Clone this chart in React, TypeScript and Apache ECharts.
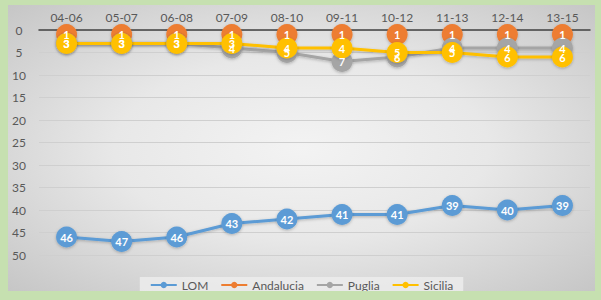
import React, { useEffect, useRef } from "react";
import * as echarts from "echarts";

const categories = ["04-06", "05-07", "06-08", "07-09", "08-10", "09-11", "10-12", "11-13", "12-14", "13-15"];
const lom = [46, 47, 46, 43, 42, 41, 41, 39, 40, 39];
const andalucia = [1, 1, 1, 1, 1, 1, 1, 1, 1, 1];
const puglia = [3, 3, 3, 4, 5, 7, 6, 4, 4, 4];
const sicilia = [3, 3, 3, 3, 4, 4, 5, 5, 6, 6];
const yTicks = { min: 0, max: 50, interval: 5 };

const FONT = "Lato, 'Noto Sans', sans-serif";

function mkSeries(name: string, data: number[], color: string) {
  return {
    name,
    type: "line",
    data,
    symbol: "circle",
    symbolSize: 21,
    lineStyle: { width: 3, color, shadowColor: "rgba(0,0,0,0.25)", shadowBlur: 3, shadowOffsetY: 1 },
    itemStyle: { color, shadowColor: "rgba(0,0,0,0.25)", shadowBlur: 3, shadowOffsetY: 1 },
    label: {
      show: true,
      position: "inside",
      color: "#ffffff",
      fontWeight: "bold",
      fontSize: 11,
      fontFamily: FONT,
    },
    emphasis: { disabled: true },
  };
}

export default function App() {
  const ref = useRef<HTMLDivElement>(null);
  useEffect(() => {
    if (!ref.current) return;
    const chart = echarts.init(ref.current, null, { renderer: "svg" });
    chart.setOption({
      animation: false,
      backgroundColor: "transparent",
      grid: { left: 31, right: 5, top: 25, bottom: 45 },
      xAxis: {
        type: "category",
        data: categories,
        position: "top",
        boundaryGap: true,
        axisLine: { show: true, lineStyle: { color: "#404040", width: 1.5 } },
        axisTick: { show: false },
        axisLabel: { color: "#595959", fontSize: 12, fontFamily: FONT, margin: 7 },
      },
      yAxis: {
        type: "value",
        inverse: true,
        min: yTicks.min,
        max: yTicks.max,
        interval: yTicks.interval,
        axisLine: { show: false },
        axisTick: { show: false },
        axisLabel: { color: "#595959", fontSize: 12, fontFamily: FONT, align: "center", margin: 20 },
        splitLine: { lineStyle: { color: "#cfcfcf", width: 1 } },
      },
      legend: {
        top: 272,
        left: "center",
        backgroundColor: "rgba(236,236,236,0.85)",
        padding: [2, 10],
        itemGap: 12,
        itemWidth: 26,
        itemHeight: 8,
        textStyle: { color: "#595959", fontSize: 12, fontFamily: FONT },
        data: ["LOM", "Andalucia", "Puglia", "Sicilia"],
      },
      series: [
        mkSeries("LOM", lom, "#5b9bd5"),
        mkSeries("Andalucia", andalucia, "#ed7d31"),
        mkSeries("Puglia", puglia, "#a5a5a5"),
        mkSeries("Sicilia", sicilia, "#ffc000"),
      ],
    });
    return () => chart.dispose();
  }, []);
  return (
    <div
      style={{
        position: "absolute",
        left: 0,
        top: 0,
        width: 601,
        height: 300,
        background: "#c6e0b0",
        overflow: "hidden",
      }}
    >
      <div
        style={{
          position: "absolute",
          left: 8,
          top: 5,
          width: 587,
          height: 286,
          overflow: "hidden",
          background: "radial-gradient(ellipse at center, #f3f3f3 0%, #e8e8e8 45%, #c6c6c6 100%)",
        }}
      >
        <div ref={ref} style={{ width: 587, height: 295 }} />
      </div>
    </div>
  );
}
